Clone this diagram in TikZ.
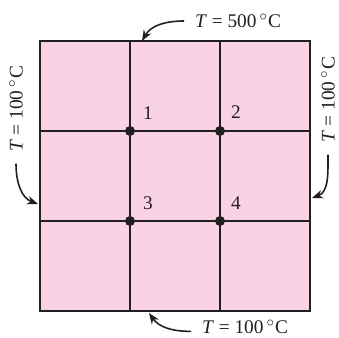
\documentclass[tikz,border=0pt]{standalone}
\usepackage{fontspec}
\setmainfont{Liberation Serif}
\usetikzlibrary{arrows.meta,positioning}
\definecolor{platepink}{HTML}{F9D3E5}
\definecolor{inkline}{HTML}{231F20}

\begin{document}
\begin{tikzpicture}[
    x=0.02cm, y=0.02cm,
    font=\fontsize{11}{13}\selectfont,
    plate/.style={
        draw=inkline,
        fill=platepink,
        line width=1.1pt
    },
    grid line/.style={draw=inkline, line width=1.1pt},
    dot/.style={
        circle,
        fill=inkline,
        inner sep=0pt,
        minimum size=0.2cm
    },
    num/.style={inner sep=0pt, text=inkline},
    temp/.style={inner sep=0pt, text=inkline},
    arr/.style={-{Stealth[length=2.2mm,width=1.7mm]}, line width=0.9pt, draw=inkline}
]
    \useasboundingbox (0,0) rectangle (339,338);
    %% Platte
    \path[plate] (40,27) rectangle (310,297);
    \draw[grid line] (130,27) -- (130,297);
    \draw[grid line] (220,27) -- (220,297);
    \draw[grid line] (40,117) -- (310,117);
    \draw[grid line] (40,207) -- (310,207);
    %% Knoten
    \node[dot] (n1) at (130,207) {};
    \node[dot] (n2) at (220,207) {};
    \node[dot] (n3) at (130,117) {};
    \node[dot] (n4) at (220,117) {};
    \node[num, above right=0.14cm and 0.18cm of n1] (l1) {1};
    \node[num, above right=0.16cm and 0.14cm of n2] (l2) {2};
    \node[num, above right=0.14cm and 0.18cm of n3] (l3) {3};
    \node[num, above right=0.14cm and 0.14cm of n4] (l4) {4};
    %% Randtemperaturen
    \node[temp] (ttop) at (238,317) {\textit{T} = 500\,$^\circ$C};
    \node[temp] (tbot) at (245,11) {\textit{T} = 100\,$^\circ$C};
    \node[temp, rotate=90] (tleft) at (16,229) {\textit{T} = 100\,$^\circ$C};
    \node[temp, rotate=90] (tright) at (328,238) {\textit{T} = 100\,$^\circ$C};
    \coordinate (etop) at (142,297);
    \coordinate (ebot) at (149,25);
    \coordinate (eleft) at (38,134);
    \coordinate (eright) at (312,140);

    %% Pfeile
    \draw[arr] ([xshift=-6pt]ttop.west) to[out=180, in=60] (etop);
    \draw[arr] ([xshift=-6pt,yshift=-2.5pt]tbot.west) to[out=180, in=-55] (ebot);
    \draw[arr] ([yshift=-6.5pt]tleft.west) to[out=-90, in=160] (eleft);
    \draw[arr] ([yshift=-6.5pt]tright.west) to[out=-90, in=20] (eright);
\end{tikzpicture}
\end{document}
